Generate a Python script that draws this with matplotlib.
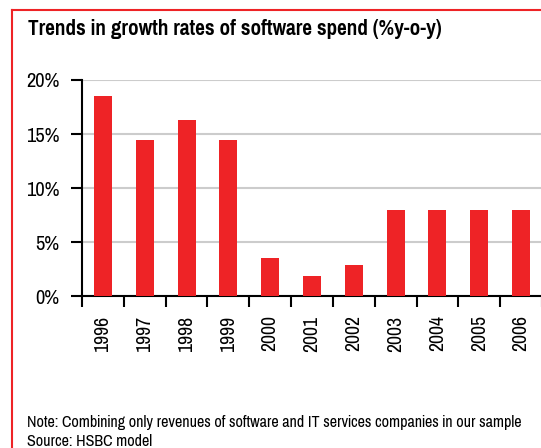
import matplotlib
matplotlib.use("Agg")
import matplotlib.pyplot as plt
from matplotlib.lines import Line2D
from matplotlib.ticker import FixedLocator, PercentFormatter

plt.rcParams['font.family'] = ['Pragati Narrow', 'Liberation Sans', 'DejaVu Sans']

# 软件支出年增速 (%)
years = ['1996', '1997', '1998', '1999', '2000', '2001', '2002', '2003', '2004', '2005', '2006']
growth = [18.5, 14.4, 16.3, 14.4, 3.5, 1.85, 2.9, 8.0, 8.0, 8.0, 8.0]
yticks = [0, 5, 10, 15, 20]

title = 'Trends in growth rates of software spend (%y-o-y)'
note = 'Note: Combining only revenues of software and IT services companies in our sample'
source = 'Source: HSBC model'

red = '#ee2326'
W, H = 541, 448
fig = plt.figure(figsize=(W / 100, H / 100), dpi=100)

ax = fig.add_axes([82 / W, 1 - 296 / H, 460 / W, 216 / H])
x = list(range(len(years)))
ax.bar(x, growth, width=0.43, color=red, zorder=3)

ax.set_xlim(-0.5, len(years) - 0.5)
ax.set_ylim(0, 20)
ax.yaxis.set_major_locator(FixedLocator(yticks))
ax.yaxis.set_major_formatter(PercentFormatter(decimals=0))
ax.grid(axis='y', color='#cccccc', linewidth=1.5, zorder=0)

# 类别边界画刻度，年份标签放在中心
ax.xaxis.set_major_locator(FixedLocator([i - 0.5 for i in range(len(years) + 1)]))
ax.xaxis.set_major_formatter(plt.NullFormatter())
ax.xaxis.set_minor_locator(FixedLocator(x))
ax.set_xticklabels(years, minor=True, rotation=90, fontsize=15.5)
ax.tick_params(axis='x', which='minor', length=0, pad=14)
ax.tick_params(axis='x', which='major', length=8, width=1.5, direction='out')
ax.tick_params(axis='y', length=8, width=1.5, direction='out', labelsize=16, pad=8)

for s in ['top', 'right']:
    ax.spines[s].set_visible(False)
for s in ['left', 'bottom']:
    ax.spines[s].set_linewidth(1.5)

fig.text(28 / W, 1 - 35 / H, title, fontsize=16.6, fontweight='bold', va='baseline')
fig.text(27 / W, 1 - 427 / H, note, fontsize=12.6, va='baseline')
fig.text(27 / W, 1 - 446 / H, source, fontsize=12.6, va='baseline')

# 红色外框
fig.add_artist(Line2D([12 / W, 1], [1 - 10 / H, 1 - 10 / H], color=red, linewidth=1.5,
                      transform=fig.transFigure))
fig.add_artist(Line2D([12 / W, 12 / W], [0, 1 - 10 / H], color=red, linewidth=1.5,
                      transform=fig.transFigure))

fig.savefig('out.png', dpi=100)
